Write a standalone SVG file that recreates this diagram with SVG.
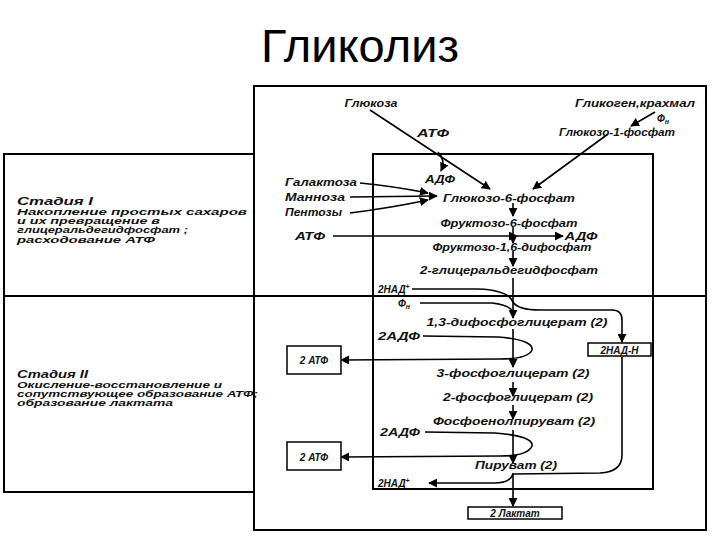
<svg xmlns="http://www.w3.org/2000/svg" width="720" height="540" viewBox="0 0 720 540">
<defs>
<marker id="ah" viewBox="0 0 10 10" refX="9" refY="5" markerWidth="9" markerHeight="9" markerUnits="userSpaceOnUse" orient="auto">
<path d="M0,0 L10,5 L0,10 z" fill="#000"/>
</marker>
<style>
.t{font-family:"Liberation Sans",Arial,sans-serif;font-style:italic;font-weight:bold;font-size:10px;fill:#111}
.s{font-family:"Liberation Sans",Arial,sans-serif;font-style:italic;font-weight:bold;font-size:8.5px;fill:#111}
.h{font-family:"Liberation Sans",Arial,sans-serif;font-style:italic;font-weight:bold;font-size:11px;fill:#111}
.frame{fill:none;stroke:#000;stroke-width:2}
.box{fill:#fff;stroke:#000;stroke-width:1.5}
.c{fill:none;stroke:#000;stroke-width:1.6;marker-end:url(#ah)}
.cn{fill:none;stroke:#000;stroke-width:1.6}
</style>
</defs>
<rect width="720" height="540" fill="#fff"/>
<text x="360" y="62" text-anchor="middle" font-family="Liberation Sans, Arial, sans-serif" font-size="47" fill="#000">Гликолиз</text>

<g id="frames">
<rect class="frame" x="254" y="86" width="452" height="444"/>
<path class="frame" d="M254,154 L4,154 L4,492 L254,492"/>
<path class="frame" d="M4,296 L706,296" stroke-width="1.5"/>
<rect class="frame" x="373" y="154" width="280" height="335"/>
</g>

<g id="stage1">
<text class="h" x="17" y="205" textLength="76" lengthAdjust="spacingAndGlyphs">Стадия I</text>
<text class="s" x="17" y="215" textLength="230" lengthAdjust="spacingAndGlyphs">Накопление простых сахаров</text>
<text class="s" x="17" y="224" textLength="143" lengthAdjust="spacingAndGlyphs">и их превращение в</text>
<text class="s" x="17" y="233" textLength="171" lengthAdjust="spacingAndGlyphs">глицеральдегидфосфат ;</text>
<text class="s" x="17" y="243" textLength="138" lengthAdjust="spacingAndGlyphs">расходование АТФ</text>
</g>
<g id="stage2">
<text class="h" x="17" y="378" textLength="71" lengthAdjust="spacingAndGlyphs">Стадия II</text>
<text class="s" x="17" y="388" textLength="205" lengthAdjust="spacingAndGlyphs">Окисление-восстановление и</text>
<text class="s" x="17" y="397" textLength="241" lengthAdjust="spacingAndGlyphs">сопутствующее образование АТФ;</text>
<text class="s" x="17" y="406" textLength="156" lengthAdjust="spacingAndGlyphs">образование лактата</text>
</g>

<g id="connectors">
<path class="c" d="M370,110 L490,189"/>
<path class="c" d="M438,152 Q446,160 441,171"/>
<path class="c" d="M608,134 L533,189"/>
<path class="c" d="M655,112 L631,126"/>
<path class="c" d="M360,183 Q392,186 428,193"/>
<path class="c" d="M350,197 L437,196"/>
<path class="c" d="M350,213 Q390,208 428,200"/>
<path class="c" d="M513,203 L513,216"/>
<path class="c" d="M513,227 L513,243"/>
<path class="c" d="M333,236 L517,236"/>
<path class="c" d="M517,236 L563,236"/>
<path class="c" d="M513,251 L513,266"/>
<path class="c" d="M513,278 L513,318"/>
<path class="c" d="M412,289 L478,289 Q508,290 513,302 Q518,310 540,310 L612,310 Q622,310 622,320 L622,342"/>
<path class="cn" d="M420,303 L492,303 Q510,305 513,312"/>
<path class="c" d="M513,329 L513,367"/>
<path class="c" d="M423,336 L498,337 Q534,340 532,350 Q528,359 500,359 L341,360"/>
<path class="c" d="M513,382 L513,396"/>
<path class="c" d="M513,405 L513,419"/>
<path class="c" d="M513,430 L513,463"/>
<path class="c" d="M425,432 L495,433 Q534,436 532,446 Q528,456 500,456 L341,457"/>
<path class="c" d="M513,473 L513,506"/>
<path class="cn" d="M622,357 L622,455 Q622,472 600,473 L513,474"/>
<path class="c" d="M513,474 Q510,483 495,483 L429,483"/>
</g>

<g id="n-glucose"><text class="t" x="371" y="107" text-anchor="middle" textLength="53" lengthAdjust="spacingAndGlyphs">Глюкоза</text></g>
<g id="n-glycogen"><text class="t" x="635" y="107" text-anchor="middle" textLength="120" lengthAdjust="spacingAndGlyphs">Гликоген,крахмал</text></g>
<g id="n-fn1"><text class="t" x="657" y="122">Ф<tspan font-size="7" dy="2">н</tspan></text></g>
<g id="n-atp1"><text class="t" x="433" y="137" text-anchor="middle" textLength="32" lengthAdjust="spacingAndGlyphs">АТФ</text></g>
<g id="n-g1p"><text class="t" x="617" y="136" text-anchor="middle" textLength="116" lengthAdjust="spacingAndGlyphs">Глюкозо-1-фосфат</text></g>
<g id="n-adp1"><text class="t" x="440" y="183" text-anchor="middle" textLength="30" lengthAdjust="spacingAndGlyphs">АДФ</text></g>
<g id="n-galactose"><text class="t" x="285" y="186" textLength="72" lengthAdjust="spacingAndGlyphs">Галактоза</text></g>
<g id="n-mannose"><text class="t" x="285" y="201" textLength="60" lengthAdjust="spacingAndGlyphs">Манноза</text></g>
<g id="n-pentose"><text class="t" x="285" y="216" textLength="57" lengthAdjust="spacingAndGlyphs">Пентозы</text></g>
<g id="n-g6p"><text class="t" x="509" y="202" text-anchor="middle" textLength="132" lengthAdjust="spacingAndGlyphs">Глюкозо-6-фосфат</text></g>
<g id="n-f6p"><text class="t" x="509" y="227" text-anchor="middle" textLength="137" lengthAdjust="spacingAndGlyphs">Фруктозо-6-фосфат</text></g>
<g id="n-atp2"><text class="t" x="310" y="240" text-anchor="middle" textLength="30" lengthAdjust="spacingAndGlyphs">АТФ</text></g>
<g id="n-adp2"><text class="t" x="581" y="240" text-anchor="middle" textLength="33" lengthAdjust="spacingAndGlyphs">АДФ</text></g>
<g id="n-f16"><text class="t" x="512" y="251" text-anchor="middle" textLength="159" lengthAdjust="spacingAndGlyphs">Фруктозо-1,6-дифосфат</text></g>
<g id="n-gap"><text class="t" x="509" y="274" text-anchor="middle" textLength="178" lengthAdjust="spacingAndGlyphs">2-глицеральдегидфосфат</text></g>
<g id="n-nad1"><text class="t" x="378" y="293">2НАД<tspan font-size="7" dy="-4">+</tspan></text></g>
<g id="n-fn2"><text class="t" x="398" y="307">Ф<tspan font-size="7" dy="2">н</tspan></text></g>
<g id="n-dpg"><text class="t" x="517" y="326" text-anchor="middle" textLength="181" lengthAdjust="spacingAndGlyphs">1,3-дифосфоглицерат (2)</text></g>
<g id="n-adp3"><text class="t" x="378" y="340" textLength="42" lengthAdjust="spacingAndGlyphs">2АДФ</text></g>
<g id="n-atp3"><rect class="box" x="287" y="346" width="54" height="28"/><text class="t" x="314" y="364" text-anchor="middle">2 АТФ</text></g>
<g id="n-nadh"><rect class="box" x="588" y="343" width="63" height="13"/><text class="t" x="619.5" y="353.5" text-anchor="middle" font-size="9">2НАД-Н</text></g>
<g id="n-3pg"><text class="t" x="513" y="377" text-anchor="middle" textLength="153" lengthAdjust="spacingAndGlyphs">3-фосфоглицерат (2)</text></g>
<g id="n-2pg"><text class="t" x="518" y="401" text-anchor="middle" textLength="150" lengthAdjust="spacingAndGlyphs">2-фосфоглицерат (2)</text></g>
<g id="n-pep"><text class="t" x="514" y="425" text-anchor="middle" textLength="162" lengthAdjust="spacingAndGlyphs">Фосфоенолпируват (2)</text></g>
<g id="n-adp4"><text class="t" x="380" y="436" textLength="40" lengthAdjust="spacingAndGlyphs">2АДФ</text></g>
<g id="n-atp4"><rect class="box" x="287" y="442" width="54" height="28"/><text class="t" x="314" y="461" text-anchor="middle">2 АТФ</text></g>
<g id="n-pyr"><text class="t" x="516" y="469" text-anchor="middle" textLength="82" lengthAdjust="spacingAndGlyphs">Пируват (2)</text></g>
<g id="n-nad2"><text class="t" x="378" y="487">2НАД<tspan font-size="7" dy="-4">+</tspan></text></g>
<g id="n-lactate"><rect class="box" x="468" y="507" width="94" height="12"/><text class="t" x="515" y="517" text-anchor="middle" font-size="9.5">2 Лактат</text></g>
</svg>
